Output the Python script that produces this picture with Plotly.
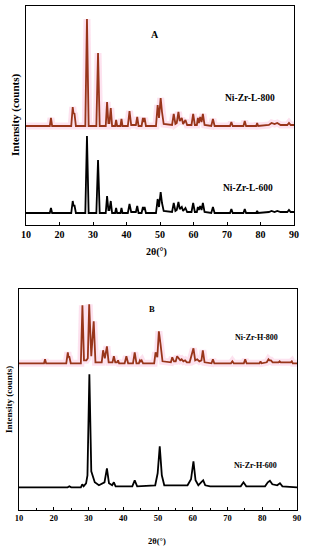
import plotly.graph_objects as go

# ---------------- data (2θ in degrees, intensity in arbitrary counts) ----------------
# Panel A, Ni-Zr-L-800
a800_x = [10, 17.1, 17.45, 17.8, 23.5, 23.95, 24.2, 24.45, 24.9, 27.7, 28.2, 28.7, 31.0, 31.5, 32.0,
          33.8, 34.2, 34.6, 34.9, 35.3, 35.7, 36.6, 36.9, 37.2, 38.2, 38.5, 38.8, 40.4, 40.9, 41.4,
          42.8, 43.2, 43.6, 44.5, 44.9, 45.15, 45.4, 45.8, 48.8, 49.3, 49.7, 50.2, 50.6, 51.1,
          53.6, 54.1, 54.6, 55.0, 55.5, 55.9, 56.5, 56.9, 57.6, 58.1, 59.4, 59.9, 60.4, 61.0, 61.3,
          61.6, 62.0, 62.4, 62.8, 63.3, 65.3, 65.8, 66.3, 70.9, 71.3, 71.7, 74.9, 75.3, 75.7,
          78.7, 79.0, 79.3, 82.5, 83.3, 84.2, 85.0, 86.0, 88.0, 88.5, 89.0, 90]
a800_y = [0, 0, 8, 0, 0, 19, 12, 13, 0, 0, 107, 0, 0, 73, 0,
          0, 24, 3, 3, 18, 0, 0, 6, 0, 0, 7, 0, 0, 15, 1,
          1, 9, 0, 0, 8, 4, 8, 0, 0, 21, 8, 28, 14, 2,
          1, 12, 2, 3, 14, 5, 8, 2, 6, 1, 1, 12, 1, 1, 8,
          3, 9, 4, 12, 1, 0, 7, 0, 0, 4, 0, 0, 5, 0,
          0, 3, 0, 1, 3, 2, 3, 1, 1, 3, 1, 1]

# Panel A, Ni-Zr-L-600
a600_x = [10, 17.1, 17.45, 17.8, 23.5, 23.95, 24.2, 24.45, 24.9, 27.7, 28.2, 28.7, 31.0, 31.5, 32.0,
          33.8, 34.2, 34.6, 34.9, 35.3, 35.7, 36.6, 36.9, 37.2, 38.2, 38.5, 38.8, 40.4, 40.9, 41.4,
          42.8, 43.2, 43.6, 44.5, 44.9, 45.15, 45.4, 45.8, 48.8, 49.3, 49.7, 50.2, 50.6, 51.1,
          53.6, 54.1, 54.6, 55.0, 55.5, 55.9, 56.5, 56.9, 57.6, 58.1, 59.4, 59.9, 60.4, 61.0, 61.3,
          61.6, 62.0, 62.4, 62.8, 63.3, 65.3, 65.8, 66.3, 70.9, 71.3, 71.7, 74.9, 75.3, 75.7,
          78.7, 79.0, 79.3, 82.5, 83.3, 84.2, 85.0, 86.0, 88.0, 88.5, 89.0, 90]
a600_y = [0, 0, 5, 0, 0, 12, 7, 8, 0, 0, 77, 0, 0, 53, 0,
          0, 17, 3, 3, 12, 0, 0, 5, 0, 0, 5, 0, 0, 9, 1,
          1, 7, 0, 0, 6, 3, 6, 0, 0, 14, 6, 21, 10, 2,
          1, 10, 2, 3, 11, 4, 6, 2, 5, 1, 1, 10, 1, 1, 6,
          3, 7, 3, 10, 1, 0, 6, 0, 0, 4, 0, 0, 4, 0,
          0, 2, 0, 1, 2, 1, 2, 1, 1, 3, 1, 1]

# Panel B, Ni-Zr-H-800
b800_x = [10, 17.2, 17.5, 17.8, 23.6, 24.05, 24.25, 24.45, 24.9, 27.8, 28.25, 28.7, 29.4, 29.8, 30.2,
          30.8, 31.5, 32.0, 33.8, 34.2, 34.7, 35.3, 35.8, 36.9, 37.3, 37.7, 38.2, 38.5, 38.8,
          40.4, 40.9, 41.4, 42.8, 43.3, 43.8, 44.5, 44.8, 45.05, 45.3, 45.7, 48.9, 49.3, 49.8,
          50.25, 50.7, 51.3, 53.7, 54.1, 54.6, 55.1, 55.5, 56.0, 56.4, 56.8, 57.3, 57.8, 58.3,
          59.1, 59.5, 60.2, 60.7, 61.3, 61.9, 62.5, 62.9, 63.4, 65.4, 65.8, 66.2, 71.0, 71.4,
          71.8, 74.7, 75.1, 75.5, 79.2, 79.5, 79.8, 81.3, 81.8, 82.1, 82.5, 83.0, 84.7, 85.0,
          85.3, 88.2, 88.5, 88.8, 90]
b800_y = [0, 0, 4, 0, 0, 11, 6, 7, 0, 0, 58, 3, 3, 5, 59,
          7, 42, 1, 1, 13, 5, 17, 1, 1, 7, 1, 1, 3, 0,
          0, 7, 0, 0, 11, 0, 0, 3, 2, 3, 0, 0, 11, 6,
          32, 20, 2, 1, 6, 2, 2, 7, 4, 3, 4, 2, 3, 1,
          1, 6, 15, 3, 4, 2, 3, 13, 1, 0, 4, 0, 0, 2,
          0, 0, 4, 0, 0, 2, 0, 1, 4, 3, 3, 1, 1, 2,
          1, 1, 2, 0, 0]

# Panel B, Ni-Zr-H-600
b600_x = [10, 24.0, 24.5, 25.0, 27.8, 28.2, 28.6, 29.3, 29.7, 30.25, 30.8, 31.2, 31.8, 33.0, 34.6,
          35.3, 35.9, 36.8, 37.3, 37.8, 42.6, 43.3, 44.0, 49.2, 49.9, 50.5, 51.1, 51.8, 58.5,
          59.5, 60.2, 60.8, 61.6, 62.4, 63.0, 63.6, 65.0, 73.8, 74.6, 75.4, 80.8, 81.6, 82.2,
          82.9, 84.3, 85.1, 85.8, 90]
b600_y = [0, 0, 1, 0, 0, 3, 1, 4, 12, 113, 16, 12, 5, 2, 5,
          19, 4, 2, 5, 1, 1, 7, 1, 2, 14, 41, 12, 2, 2,
          8, 26, 7, 2, 5, 7, 2, 1, 1, 5, 1, 1, 5, 6.5,
          3, 2, 4, 1, 0]

x_ticks = [10, 20, 30, 40, 50, 60, 70, 80, 90]
label_a800 = "Ni-Zr-L-800"
label_a600 = "Ni-Zr-L-600"
label_b800 = "Ni-Zr-H-800"
label_b600 = "Ni-Zr-H-600"
x_title = "2θ(°)"
y_title = "Intensity (counts)"

# ---------------- styling ----------------
W, H = 311, 550
OFF_A = 87     # vertical stacking offset in panel A
OFF_B = 124    # vertical stacking offset in panel B
FONT = "Liberation Serif, Times New Roman, serif"
RED = "#98351a"
HALO = "rgba(250,190,220,0.45)"


def px(xp, yp):
    return xp / W, 1 - yp / H


fig = go.Figure()

def add_series(xs, ys, off, color, xa, ya, halo=False):
    yv = [v + off for v in ys]
    if halo:
        fig.add_trace(go.Scatter(x=xs, y=yv, mode="lines", xaxis=xa, yaxis=ya,
                                 line=dict(color=HALO, width=7), hoverinfo="skip", showlegend=False))
    fig.add_trace(go.Scatter(x=xs, y=yv, mode="lines", xaxis=xa, yaxis=ya,
                             line=dict(color=color, width=1.8), showlegend=False))

add_series(a800_x, a800_y, OFF_A, RED, "x", "y", halo=True)
add_series(a600_x, a600_y, 0, "black", "x", "y")
add_series(b800_x, b800_y, OFF_B, RED, "x2", "y2", halo=True)
add_series(b600_x, b600_y, 0, "black", "x2", "y2")

axis_common = dict(showline=True, mirror=True, linecolor="black", linewidth=1.3,
                   showgrid=False, zeroline=False, automargin=False)

xa_dom = [px(26, 0)[0], px(294, 0)[0]]
ya_dom = [px(0, 225)[1], px(0, 6)[1]]
xb_dom = [px(19, 0)[0], px(297, 0)[0]]
yb_dom = [px(0, 510)[1], px(0, 289)[1]]

fig.update_layout(
    template="none",
    width=W, height=H, margin=dict(l=0, r=0, t=0, b=0, autoexpand=False),
    plot_bgcolor="white", paper_bgcolor="white",
    xaxis=dict(domain=xa_dom, range=[10, 90], anchor="y", tickvals=x_ticks,
               ticks="inside", ticklen=3, tickcolor="black", tickwidth=1.2,
               tickfont=dict(family=FONT, size=10, color="black", weight="bold"), **axis_common),
    yaxis=dict(domain=ya_dom, range=[-12, 207], anchor="x", showticklabels=False, ticks="", **axis_common),
    xaxis2=dict(domain=xb_dom, range=[10, 90], anchor="y2", tickvals=x_ticks,
                ticks="inside", ticklen=3, tickcolor="black", tickwidth=1.2,
                minor=dict(dtick=5, tick0=10, ticks="inside", ticklen=2, tickcolor="black"),
                tickfont=dict(family=FONT, size=8.5, color="black", weight="bold"), **axis_common),
    yaxis2=dict(domain=yb_dom, range=[-22.7, 198.3], anchor="x2", showticklabels=False, ticks="", **axis_common),
)

def ann(text, xp, yp, size, angle=0):
    x, y = px(xp, yp)
    fig.add_annotation(text=text, x=x, y=y, xref="paper", yref="paper", showarrow=False,
                       xanchor="center", yanchor="middle", textangle=angle,
                       font=dict(family=FONT, size=size, color="black", weight="bold"))

ann("A", 155, 35, 10)
ann(label_a800, 250, 98, 9.5)
ann(label_a600, 248, 188, 9.5)
ann(x_title, 157, 252, 10)
ann(y_title, 15, 115, 11, angle=-90)

ann("B", 152, 309, 8.5)
ann(label_b800, 256, 337, 8)
ann(label_b600, 255, 465, 8)
ann(x_title, 157, 541, 8.5)
ann(y_title, 9, 400, 9, angle=-90)

fig.write_html("out.html", config={"displayModeBar": False},
               post_script="document.body.style.margin='0px';")
